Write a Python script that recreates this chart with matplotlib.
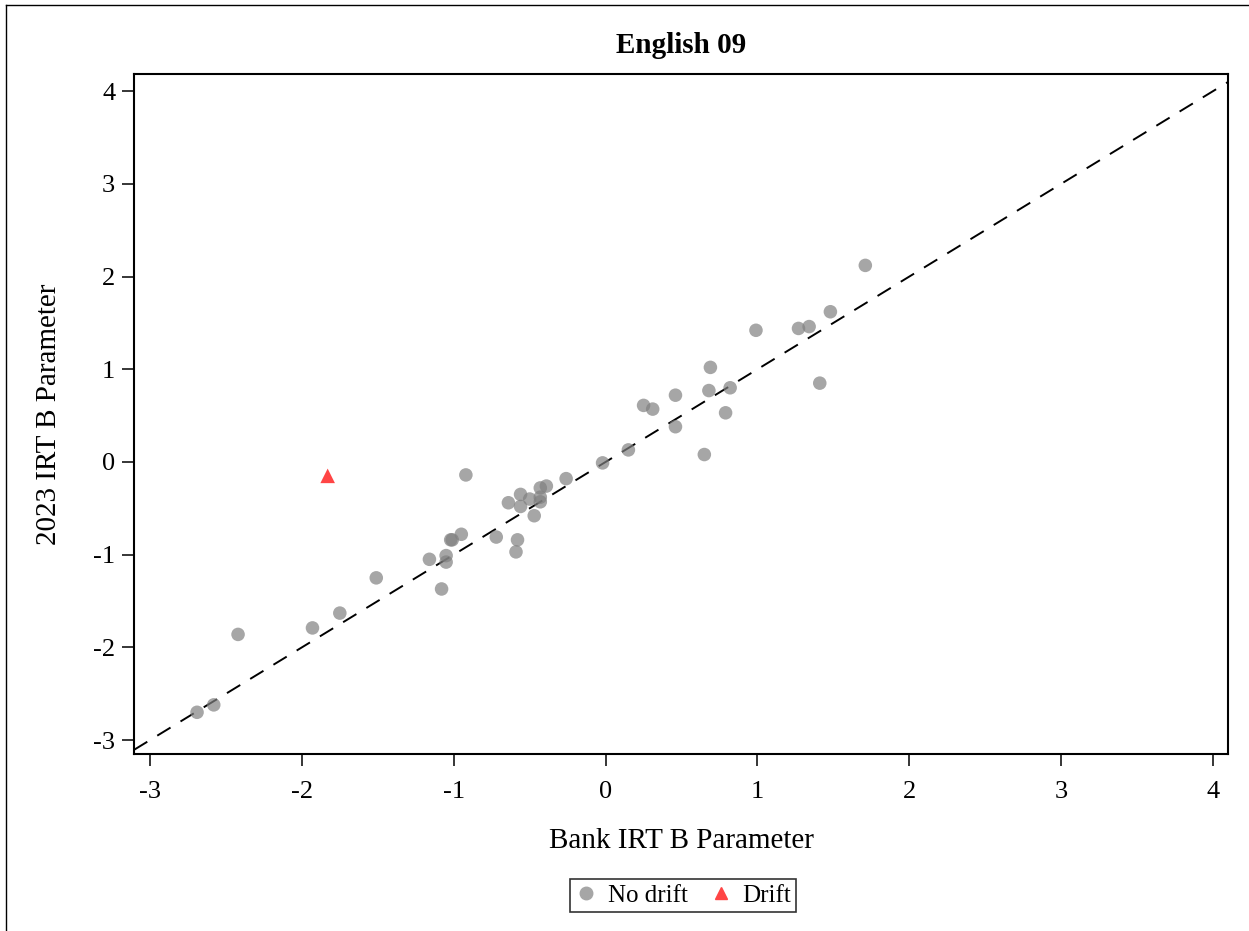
import numpy as np
import matplotlib
matplotlib.use("Agg")
import matplotlib.pyplot as plt
from matplotlib.lines import Line2D

plt.rcParams['font.family'] = ['Liberation Serif', 'DejaVu Serif']
plt.rcParams['axes.unicode_minus'] = False

# no drift items: bank b vs 2023 b
bank_b = [-2.69, -2.58, -2.42, -1.93, -1.75, -1.51, -1.08,
          -0.64, -0.56, -0.56, -0.50, -0.47, -0.43, -0.39, -0.43, -0.43,
          -0.26, -0.02, -0.72, -0.58, -0.59, -0.95, -1.02, -1.01, -0.92,
          -1.16, -1.05, -1.05,
          0.15, 0.25, 0.31, 0.46, 0.46, 0.65, 0.69, 0.68, 0.79, 0.82,
          0.99, 1.27, 1.34, 1.41, 1.48, 1.71]
new_b = [-2.70, -2.62, -1.86, -1.79, -1.63, -1.25, -1.37,
         -0.44, -0.35, -0.48, -0.40, -0.58, -0.28, -0.26, -0.43, -0.38,
         -0.18, -0.01, -0.81, -0.84, -0.97, -0.78, -0.84, -0.84, -0.14,
         -1.05, -1.01, -1.08,
         0.13, 0.61, 0.57, 0.72, 0.38, 0.08, 1.02, 0.77, 0.53, 0.80,
         1.42, 1.44, 1.46, 0.85, 1.62, 2.12]

# drift item
drift_bank = [-1.83]
drift_new = [-0.15]

fig = plt.figure(figsize=(12.49, 9.31), dpi=100)
ax = fig.add_axes([0.1073, 0.1901, 0.8759, 0.7304])

# outer frame (only top and left visible in the reference)
fig.add_artist(Line2D([0.005, 0.005], [0.0, 0.995], transform=fig.transFigure, color='black', lw=1.0))
fig.add_artist(Line2D([0.005, 1.0], [0.995, 0.995], transform=fig.transFigure, color='black', lw=1.0))

xlo, xhi = -3.105, 4.098
ylo, yhi = -3.15, 4.184
ax.plot([xlo, xhi], [xlo, xhi], color='black', lw=1.4, ls=(0, (8, 6)), zorder=1)

ax.scatter(bank_b, new_b, s=95, color='#808080', alpha=0.7, edgecolors='none', zorder=2)
ax.scatter(drift_bank, drift_new, s=110, marker='^', color='#FF4545', edgecolors='none', zorder=3)

ax.set_xlim(xlo, xhi)
ax.set_ylim(ylo, yhi)
ax.set_xticks(np.arange(-3, 5))
ax.set_yticks(np.arange(-3, 5))
ax.tick_params(direction='out', length=8.5, width=1.1, labelsize=19)
ax.tick_params(axis='x', pad=11)
ax.tick_params(axis='y', pad=5)
for sp in ax.spines.values():
    sp.set_linewidth(1.5)

ax.set_title('English 09', fontsize=21, fontweight='bold', pad=15)
ax.set_xlabel('Bank IRT B Parameter', fontsize=21)
ax.set_ylabel('2023 IRT B Parameter', fontsize=21)
ax.xaxis.set_label_coords(0.5, -0.128)
ax.xaxis.label.set_va('center')
ax.yaxis.set_label_coords(-0.078, 0.5)
ax.yaxis.label.set_va('center')

handles = [Line2D([], [], marker='o', ls='none', color='#A6A6A6', markersize=9),
           Line2D([], [], marker='^', ls='none', color='#FF4545', markersize=9)]
leg = fig.legend(handles, ['No drift', 'Drift'], loc='center', bbox_to_anchor=(0.547, 0.038),
                 ncol=2, fontsize=18, frameon=True, fancybox=False, edgecolor='black',
                 handlelength=0.9, handletextpad=0.4, columnspacing=0.9, borderpad=0.2)
leg.get_frame().set_linewidth(1.2)

fig.savefig('out.png', dpi=100)
